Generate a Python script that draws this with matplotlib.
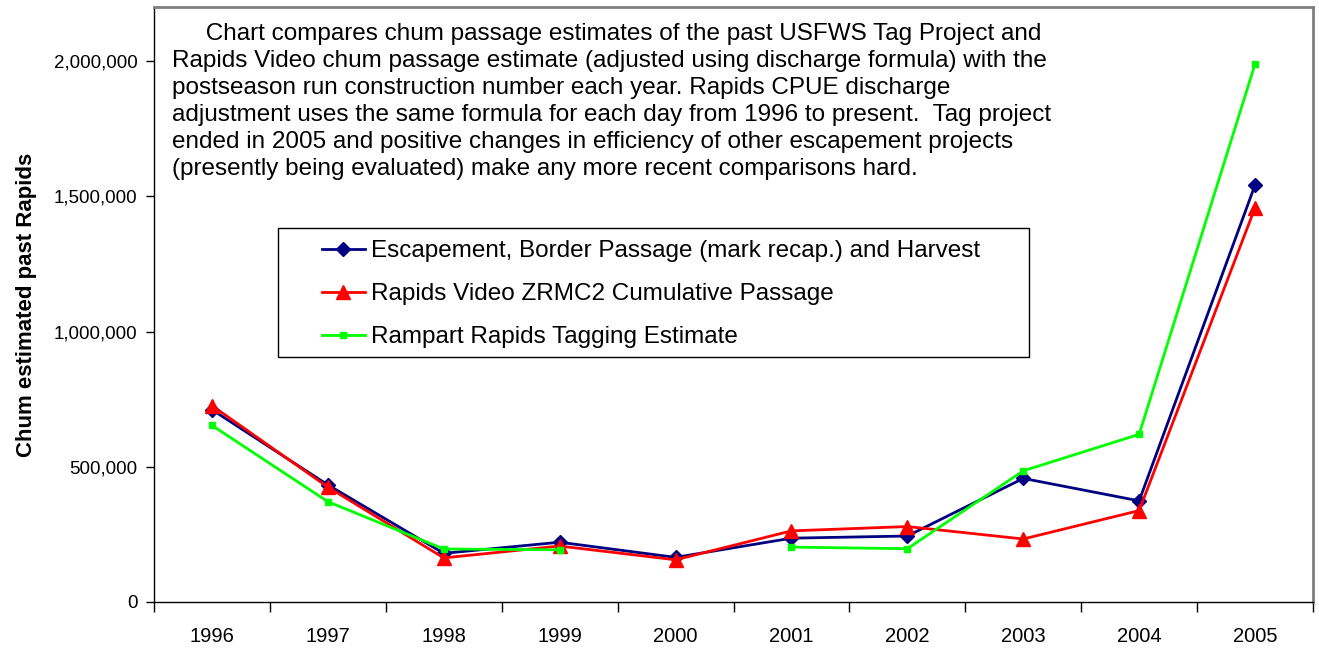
import numpy as np
import matplotlib
matplotlib.use("Agg")
import matplotlib.pyplot as plt
from matplotlib.patches import Rectangle
from matplotlib.ticker import FuncFormatter, FixedLocator

# data
years = ["1996", "1997", "1998", "1999", "2000", "2001", "2002", "2003", "2004", "2005"]
escapement = [711000, 433000, 180000, 221000, 165000, 236000, 244000, 457000, 374000, 1542000]
video = [726000, 425000, 163000, 207000, 156000, 263000, 279000, 233000, 338000, 1458000]
tagging = [653000, 371000, 196000, 193000, np.nan, 203000, 197000, 485000, 620000, 1989000]

labels = ["Escapement, Border Passage (mark recap.) and Harvest",
          "Rapids Video ZRMC2 Cumulative Passage",
          "Rampart Rapids Tagging Estimate"]

note = ("     Chart compares chum passage estimates of the past USFWS Tag Project and\n"
        "Rapids Video chum passage estimate (adjusted using discharge formula) with the\n"
        "postseason run construction number each year. Rapids CPUE discharge\n"
        "adjustment uses the same formula for each day from 1996 to present.  Tag project\n"
        "ended in 2005 and positive changes in efficiency of other escapement projects\n"
        "(presently being evaluated) make any more recent comparisons hard.")

plt.rcParams['font.family'] = ['Liberation Sans', 'DejaVu Sans']

W, H = 1319, 648
fig = plt.figure(figsize=(W / 100, H / 100), dpi=100)
ax = fig.add_axes([154 / W, 1 - 602 / H, (1313 - 154) / W, (602 - 7) / H])

x = np.arange(len(years))
ax.plot(x, escapement, color="#000080", lw=2, marker="D", ms=7, label=labels[0])
ax.plot(x, video, color="#FF0000", lw=2, marker="^", ms=10, label=labels[1])
ax.plot(x, tagging, color="#00FF00", lw=2, marker="s", ms=5, label=labels[2])

ax.set_xlim(-0.5, len(years) - 0.5)
ax.set_ylim(0, 2200000)
ax.set_yticks(np.arange(0, 2000001, 500000))
ax.yaxis.set_major_formatter(FuncFormatter(lambda v, p: f"{int(v):,}"))
ax.set_xticks(x)
ax.set_xticklabels(years, fontsize=14.5)
ax.xaxis.set_minor_locator(FixedLocator(np.arange(-0.5, len(years), 1.0)))
ax.tick_params(axis="x", which="major", length=0, pad=18)
ax.tick_params(axis="x", which="minor", length=7, width=1, direction="out")
ax.tick_params(axis="y", length=6, width=1, direction="out", labelsize=13.5, pad=6)

for side in ["top", "right"]:
    ax.spines[side].set_color("#808080")
    ax.spines[side].set_linewidth(2)
for side in ["left", "bottom"]:
    ax.spines[side].set_color("black")
    ax.spines[side].set_linewidth(1)

ax.set_ylabel("Chum estimated past Rapids", fontsize=16, fontweight="bold", labelpad=12)

fig.text(172 / W, 1 - 23 / H, note, fontsize=17.5, va="top", ha="left", linespacing=1.29)

leg = ax.legend(loc="upper left", bbox_to_anchor=(322 / W, 1 - 240 / H),
                bbox_transform=fig.transFigure, frameon=False, fontsize=17.5,
                handlelength=1.75, handletextpad=0.25, labelspacing=0.87,
                borderaxespad=0, borderpad=0)
fig.patches.append(Rectangle((278 / W, 1 - 357 / H), (1029 - 278) / W, (357 - 228) / H,
                             transform=fig.transFigure, fill=False,
                             edgecolor="black", lw=1, zorder=3))

fig.savefig("out.png", dpi=100)
